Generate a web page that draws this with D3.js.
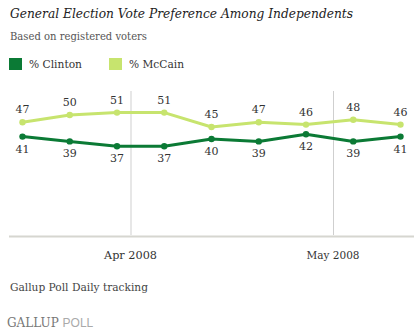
<!DOCTYPE html>
<html>
<head>
<meta charset="utf-8">
<script src="https://cdn.jsdelivr.net/npm/d3@7"></script>
<style>
  body { margin: 0; background: #fff; }
  svg { display: block; }
</style>
</head>
<body>
<script>
// Weekly points of the daily tracking series
const dates = ["2008-03-16", "2008-03-23", "2008-03-30", "2008-04-06", "2008-04-13",
               "2008-04-20", "2008-04-27", "2008-05-04", "2008-05-11"];
const clinton = [41, 39, 37, 37, 40, 39, 42, 39, 41];
const mccain = [47, 50, 51, 51, 45, 47, 46, 48, 46];
const monthTicks = ["2008-04-01", "2008-05-01"];
const monthLabels = ["Apr 2008", "May 2008"];

const W = 420, H = 332;
const GREEN = "#0b7a35", LIGHT = "#c7e46e";
const SERIF = "Georgia, 'DejaVu Serif', serif";

const parse = d3.timeParse("%Y-%m-%d");

const svg = d3.select("body").append("svg")
    .attr("width", W).attr("height", H);

// Title block
svg.append("text")
    .attr("x", 10).attr("y", 18)
    .attr("font-family", SERIF).attr("font-style", "italic")
    .attr("font-size", 13.5).attr("fill", "#222")
    .attr("textLength", 343).attr("lengthAdjust", "spacingAndGlyphs")
    .text("General Election Vote Preference Among Independents");

svg.append("text")
    .attr("x", 10).attr("y", 40)
    .attr("font-family", SERIF).attr("font-size", 11.5).attr("fill", "#555")
    .attr("textLength", 137).attr("lengthAdjust", "spacingAndGlyphs")
    .text("Based on registered voters");

// Legend
const legend = [
    { label: "% Clinton", color: GREEN, x: 9, w: 53 },
    { label: "% McCain", color: LIGHT, x: 109, w: 55 }
];
const lg = svg.append("g").selectAll("g").data(legend).join("g")
    .attr("transform", d => `translate(${d.x},58)`);
lg.append("rect").attr("width", 13).attr("height", 12).attr("fill", d => d.color);
lg.append("text")
    .attr("x", 20).attr("y", 10)
    .attr("font-family", SERIF).attr("font-size", 11.5).attr("fill", "#333")
    .attr("textLength", d => d.w).attr("lengthAdjust", "spacingAndGlyphs")
    .text(d => d.label);

// Scales
const x = d3.scaleTime()
    .domain([parse("2008-03-14"), parse("2008-05-13")])
    .range([9, 414]);
const y = d3.scaleLinear().domain([0, 60]).range([235, 91]);

// Month gridlines
svg.append("g").selectAll("line").data(monthTicks).join("line")
    .attr("x1", d => x(parse(d)) + 0.5).attr("x2", d => x(parse(d)) + 0.5)
    .attr("y1", y(60)).attr("y2", y(0))
    .attr("stroke", "#cfcfcf").attr("stroke-width", 1);

// Baseline
svg.append("line")
    .attr("x1", 9).attr("x2", 414)
    .attr("y1", y(0) + 1.5).attr("y2", y(0) + 1.5)
    .attr("stroke", "#d6d6d0").attr("stroke-width", 2);

svg.append("g").selectAll("text").data(monthTicks).join("text")
    .attr("x", d => x(parse(d))).attr("y", 259)
    .attr("text-anchor", "middle")
    .attr("font-family", SERIF).attr("font-size", 11).attr("fill", "#333")
    .attr("textLength", 53).attr("lengthAdjust", "spacingAndGlyphs")
    .text((d, i) => monthLabels[i]);

// Series
const series = [
    { values: mccain, color: LIGHT, dy: -9 },
    { values: clinton, color: GREEN, dy: 16 }
];
const line = d3.line().x(d => x(d.date)).y(d => y(d.v));

series.forEach(s => {
    const pts = s.values.map((v, i) => ({ date: parse(dates[i]), v }));
    const g = svg.append("g");
    g.append("path").datum(pts)
        .attr("d", line).attr("fill", "none")
        .attr("stroke", s.color).attr("stroke-width", 3)
        .attr("stroke-linejoin", "round");
    g.selectAll("circle").data(pts).join("circle")
        .attr("cx", d => x(d.date)).attr("cy", d => y(d.v))
        .attr("r", 3.2).attr("fill", s.color);
    g.selectAll("text").data(pts).join("text")
        .attr("x", d => x(d.date)).attr("y", d => y(d.v) + s.dy)
        .attr("text-anchor", "middle")
        .attr("font-family", SERIF).attr("font-size", 11).attr("fill", "#333")
        .text(d => d.v);
});

// Footer
svg.append("text")
    .attr("x", 10).attr("y", 291)
    .attr("font-family", SERIF).attr("font-size", 11.5).attr("fill", "#444")
    .attr("textLength", 138).attr("lengthAdjust", "spacingAndGlyphs")
    .text("Gallup Poll Daily tracking");

const logo = svg.append("text")
    .attr("x", 7).attr("y", 327)
    .attr("font-size", 12);
logo.append("tspan")
    .attr("font-family", SERIF).attr("fill", "#777")
    .text("GALLUP ");
logo.append("tspan")
    .attr("font-family", "'Liberation Sans', Arial, sans-serif").attr("fill", "#aaa")
    .text("POLL");
</script>
</body>
</html>
